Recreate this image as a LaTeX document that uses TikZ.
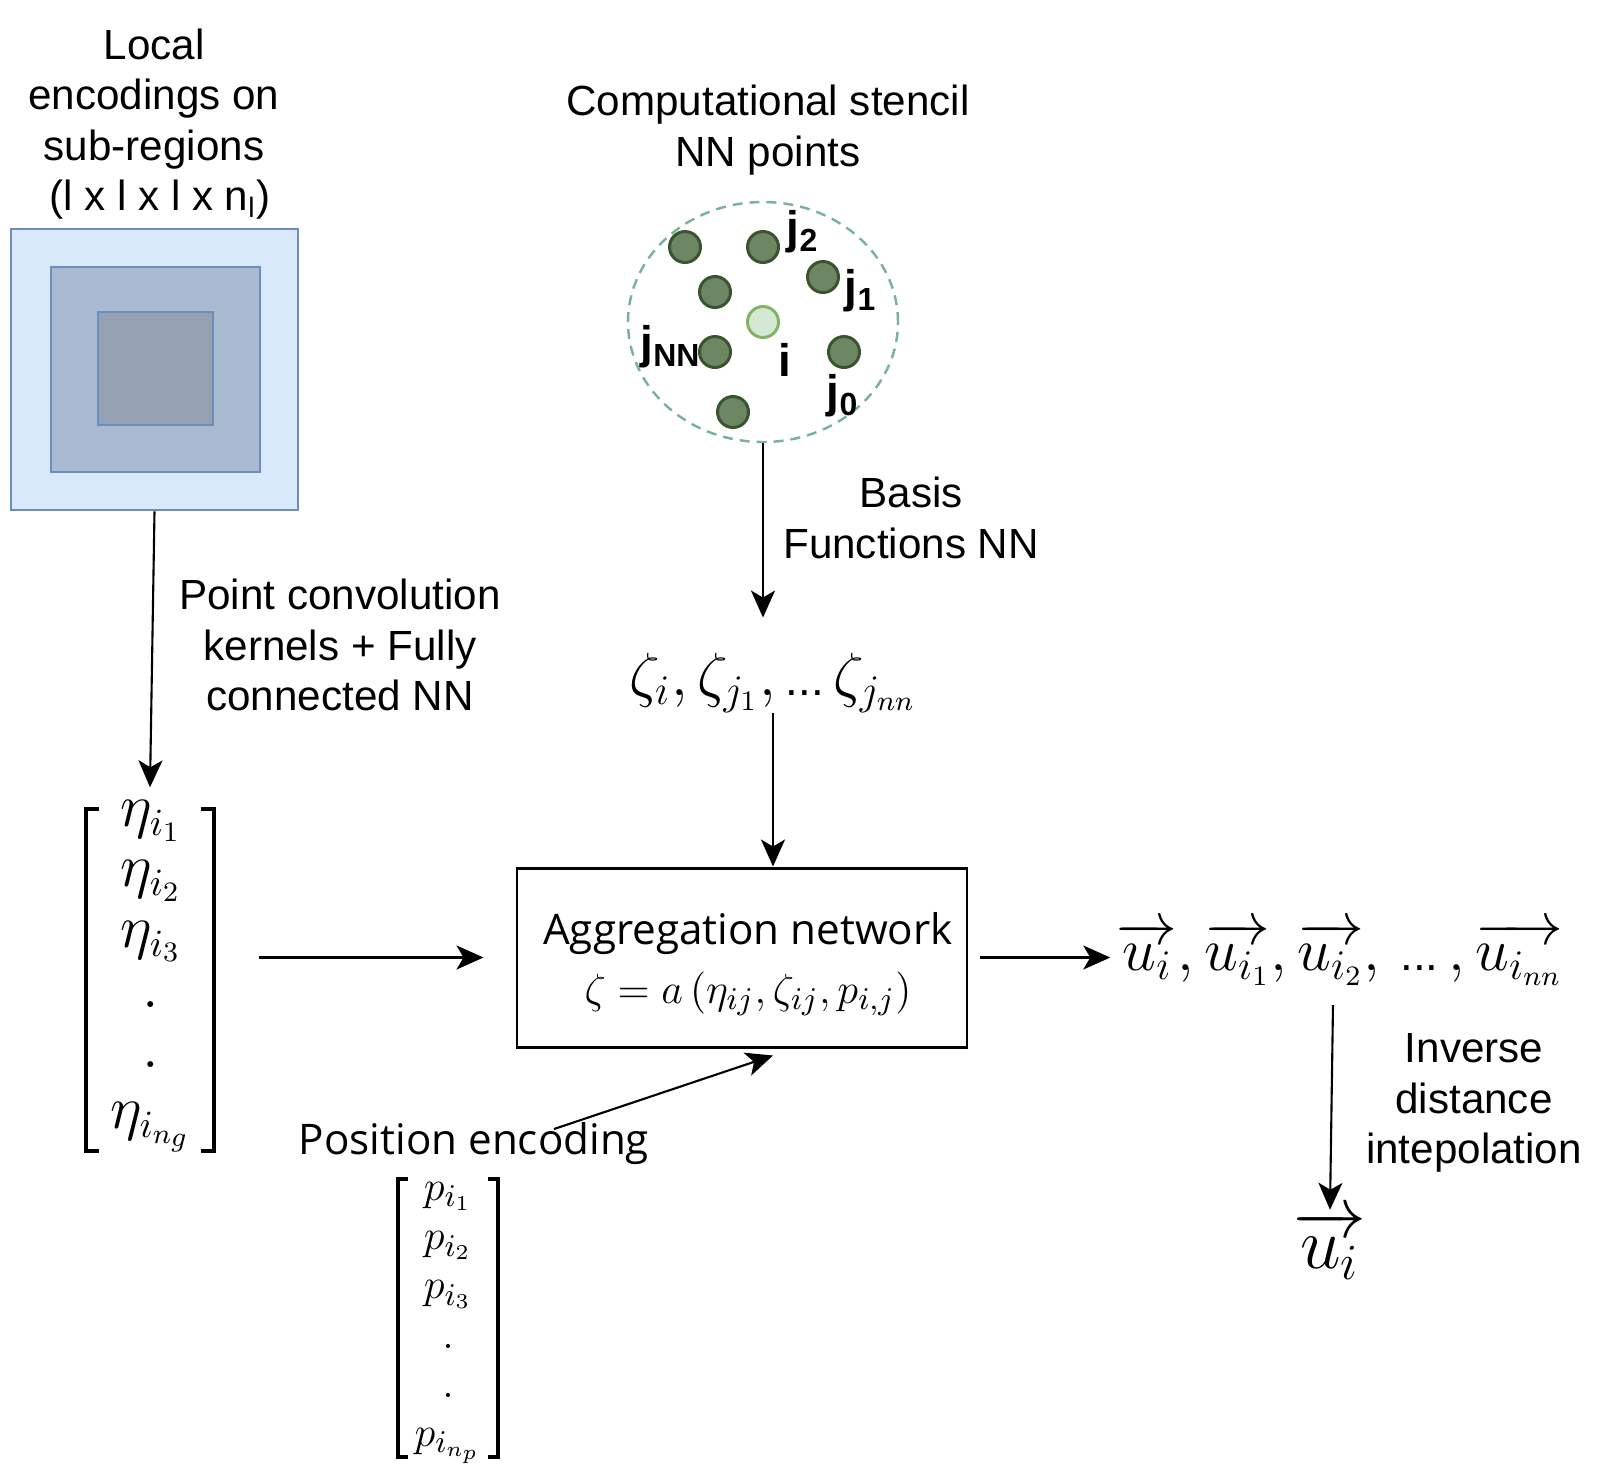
\documentclass[tikz,border=0pt]{standalone}
\usepackage{amsmath}
\usepackage{fontspec}
\setmainfont{Liberation Sans}
\newfontfamily\boxfont{Open Sans}
\usetikzlibrary{arrows.meta,shapes.geometric,calc}
\definecolor{blueline}{HTML}{6C8EBF}
\definecolor{bluefill}{HTML}{DAE8FC}
\definecolor{midfill}{HTML}{AABAD1}
\definecolor{innerfill}{HTML}{94A1B2}
\definecolor{dotfill}{HTML}{6D8764}
\definecolor{dotline}{HTML}{3A5431}
\definecolor{ifill}{HTML}{D5E8D4}
\definecolor{iline}{HTML}{82B366}
\definecolor{stencilline}{HTML}{7AB296}
\newcommand{\smalldots}{\text{\fontsize{13}{15}\selectfont ...}}
\tikzset{
  arr/.style={-{Stealth[length=2.7mm,width=2.4mm,inset=0.7mm]}, line width=0.6pt},
  sq/.style={draw=blueline, line width=0.8pt, inner sep=0pt},
  dot/.style={circle, draw=dotline, fill=dotfill, line width=0.85pt, minimum size=3.1mm, inner sep=0pt},
  lbl/.style={font=\fontsize{13}{15}\selectfont\bfseries, inner sep=0pt},
  bracket/.style={line width=1.1pt},
}
\begin{document}
\begin{tikzpicture}[x=0.1mm, y=0.1mm, every node/.style={font=\fontsize{12}{14.4}\selectfont, align=center, inner sep=0pt}]
\useasboundingbox (0,0) rectangle (1617,-1470);
% local encodings
\node (title) at (154,-124) {Local\\encodings on\\sub-regions\\ \ (l x l x l x n\textsubscript{l})};
\node[sq, fill=bluefill, minimum width=2.87cm, minimum height=2.81cm] (outer) at (154.5,-369.5) {};
\node[sq, fill=midfill, minimum width=2.09cm, minimum height=2.05cm] (mid) at (155.5,-369.5) {};
\node[sq, fill=innerfill, minimum width=1.15cm, minimum height=1.13cm] (inner) at (155.5,-368.5) {};
\node (conv) at (340,-645) {Point convolution\\kernels + Fully\\connected NN};
% eta vector
\node[minimum width=1.26cm, minimum height=3.4cm] (eta) at (150,-980) {};
\node (etacol) at (151,-968) {\fontsize{16}{17.2}\selectfont$\begin{array}{c}
  \eta_{i_1}\\ \eta_{i_2}\\ \eta_{i_3}\\ .\\ .\\ \eta_{i_{n_g}}
\end{array}$};
\draw[bracket] ([xshift=1.3mm]eta.north west) -- (eta.north west) -- (eta.south west) -- ([xshift=1.3mm]eta.south west);
\draw[bracket] ([xshift=-1.3mm]eta.north east) -- (eta.north east) -- (eta.south east) -- ([xshift=-1.3mm]eta.south east);
% stencil
\node (stitle) at (768,-130) {Computational stencil\\NN points};
\node[ellipse, draw=stencilline, dash pattern=on 1mm off 0.7mm, line width=0.7pt,
      minimum width=2.7cm, minimum height=2.4cm] (stencil) at (763,-322) {};
\node[dot] (d1) at (685,-247) {};
\node[dot] (d2) at (763,-247) {};
\node[dot] (d3) at (823,-277) {};
\node[dot] (d4) at (715,-292) {};
\node[dot] (d5) at (715,-352) {};
\node[dot] (d6) at (844,-352) {};
\node[dot] (d7) at (733,-412) {};
\node[dot, draw=iline, fill=ifill] (ci) at (763,-322) {};
\node[lbl] (lj2) at (803,-232) {j\textsubscript{2}};
\node[lbl] (lj1) at (861,-291) {j\textsubscript{1}};
\node[lbl] (ljnn) at (671,-347) {j\textsubscript{NN}};
\node[lbl] (li) at (785,-360) {i};
\node[lbl] (lj0) at (843,-396) {j\textsubscript{0}};
\node (basis) at (911,-518) {Basis\\Functions NN};
\node (zeta) at (773,-683) {\fontsize{17}{20}\selectfont$\zeta_i, \zeta_{j_1},\smalldots\,\zeta_{j_{nn}}$};
% aggregation
\node[draw, line width=0.85pt, minimum width=4.5cm, minimum height=1.79cm] (agg) at (742,-957.5) {};
\node (aggtxt) at (748,-964) {\boxfont\fontsize{12}{16.5}\selectfont Aggregation network\\[2.5pt]
  \fontsize{13}{16}\selectfont$\zeta = a\left(\eta_{ij}, \zeta_{ij}, p_{i,j}\right)$};
\node (posenc) at (474,-1144) {\boxfont\fontsize{12}{15}\selectfont Position encoding};
\coordinate (pe) at (554,-1129);
% p vector
\node[minimum width=0.99cm, minimum height=2.77cm] (pvec) at (448,-1318) {};
\node (pcol) at (448,-1315) {\fontsize{12.5}{14}\selectfont$\begin{array}{c}
  p_{i_1}\\ p_{i_2}\\ p_{i_3}\\ .\\ .\\ p_{i_{n_p}}
\end{array}$};
\draw[bracket] ([xshift=1mm]pvec.north west) -- (pvec.north west) -- (pvec.south west) -- ([xshift=1mm]pvec.south west);
\draw[bracket] ([xshift=-1mm]pvec.north east) -- (pvec.north east) -- (pvec.south east) -- ([xshift=-1mm]pvec.south east);
% output
\node (ulist) at (1340,-954) {\fontsize{17}{20}\selectfont$\overrightarrow{u_i}, \overrightarrow{u_{i_1}}, \overrightarrow{u_{i_2}},\,\smalldots\,,\overrightarrow{u_{i_{nn}}}$};
\node (interp) at (1474,-1103) {Inverse\\distance\\intepolation};
\node (uout) at (1330,-1245) {\fontsize{20}{24}\selectfont$\overrightarrow{u_i}$};
\coordinate (ustart) at (1333,-1005);
% connectors
\draw[arr] (outer.south) -- ([yshift=2.2mm]eta.north);
\draw[arr] (stencil.south) -- ([yshift=3.5mm]stencil.south |- zeta.north);
\draw[arr] (zeta.south) -- (zeta |- agg.north);
\draw[arr] ([xshift=4.5mm]eta.east |- agg.west) -- ([xshift=-3.2mm]agg.west);
\draw[arr] ([xshift=1.2mm]agg.east) -- ([xshift=-0.6mm]agg.east -| ulist.west);
\draw[arr] (pe) -- ($(zeta |- agg.south)+(0,-7)$);
\draw[arr] (ustart) -- (uout.north);
\end{tikzpicture}
\end{document}
